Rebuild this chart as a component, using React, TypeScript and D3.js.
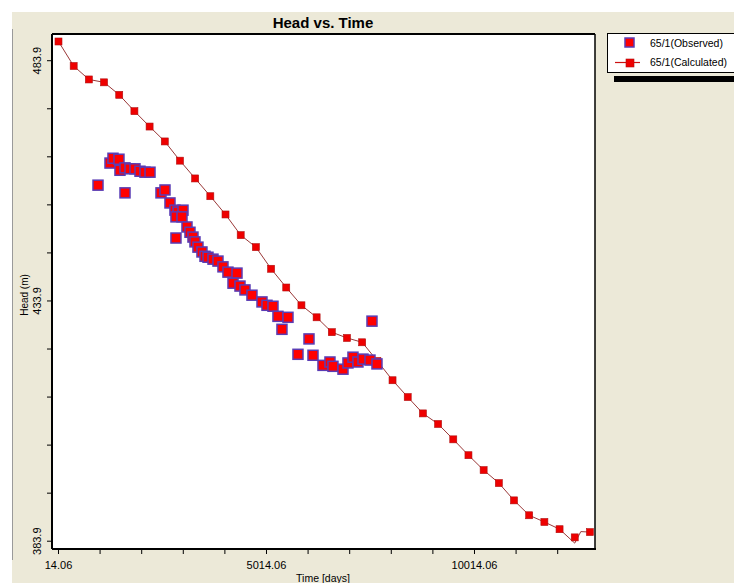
import React from "react";
import * as d3 from "d3";

// calculated head, one marker per year
const calcTime = [
  14.06, 379.06, 744.06, 1109.06, 1474.06, 1839.06, 2204.06, 2569.06, 2934.06,
  3299.06, 3664.06, 4029.06, 4394.06, 4759.06, 5124.06, 5489.06, 5854.06,
  6219.06, 6584.06, 6949.06, 7314.06, 7679.06, 8044.06, 8409.06, 8774.06,
  9139.06, 9504.06, 9869.06, 10234.06, 10599.06, 10964.06, 11329.06, 11694.06,
  12059.06, 12424.06, 12789.06,
];
const calcHead = [
  487.9, 482.8, 480.0, 479.4, 476.8, 473.4, 470.2, 467.1, 463.1, 459.4, 455.7,
  451.9, 447.6, 445.1, 440.6, 436.7, 433.0, 430.5, 427.4, 426.2, 425.3, 421.4,
  417.4, 413.9, 410.5, 408.3, 405.1, 401.8, 398.7, 396.0, 392.4, 389.3, 387.9,
  386.4, 384.7, 385.8,
];
// the calculated curve dips a little below the last markers
const lineTailTime = [12424.06, 12570, 12789.06];
const lineTailHead = [383.5, 385.9, 385.8];

const obsTime = [
  964, 1252, 1324, 1468, 1492, 1613, 1733, 1853, 1973, 2093, 2214, 1613, 2478,
  2574, 2694, 2814, 2887, 3007, 2838, 2983, 2838, 3103, 3175, 3247, 3295, 3367,
  3463, 3536, 3608, 3728, 3848, 3968, 4088, 4305, 4209, 4377, 4497, 4665, 4906,
  5026, 5170, 5290, 5531, 5386, 6036, 5771, 6132, 6372, 6540, 6612, 6853, 6973,
  7093, 7213, 7334, 7502, 7670, 7550,
];
const obsHead = [
  458.0, 462.6, 463.6, 463.4, 461.1, 461.6, 461.4, 461.4, 460.9, 460.7, 460.7,
  456.4, 456.4, 457.0, 454.3, 452.8, 452.4, 452.8, 451.4, 451.4, 447.0, 449.3,
  448.2, 447.2, 446.2, 445.1, 444.1, 443.2, 443.0, 442.6, 442.2, 441.0, 439.9,
  439.7, 437.6, 437.0, 436.2, 435.1, 433.7, 433.0, 432.8, 430.7, 430.5, 428.0,
  426.0, 422.8, 422.6, 420.5, 421.2, 420.3, 419.7, 421.0, 422.2, 421.2, 421.8,
  421.6, 420.8, 429.7,
];

const xTicks = [
  14.06, 1014.06, 2014.06, 3014.06, 4014.06, 5014.06, 6014.06, 7014.06,
  8014.06, 9014.06, 10014.06, 11014.06, 12014.06,
];
const xLabels = [14.06, 5014.06, 10014.06];
const yTicks = [383.9, 393.9, 403.9, 413.9, 423.9, 433.9, 443.9, 453.9, 463.9, 473.9, 483.9];
const yLabels = [383.9, 433.9, 483.9];

const W = 734;
const H = 583;
const plot = { left: 52, top: 34, right: 595, bottom: 549 };
const font = "'Liberation Sans', Arial, sans-serif";

export default function App() {
  const x = d3.scaleLinear().domain([-142, 12911]).range([plot.left, plot.right]);
  const y = d3.scaleLinear().domain([382.28, 489.46]).range([plot.bottom, plot.top]);

  const calcPts: [number, number][] = calcTime.map((t, i) => [t, calcHead[i]]);
  const linePts: [number, number][] = calcPts
    .slice(0, calcPts.length - 2)
    .concat(lineTailTime.map((t, i) => [t, lineTailHead[i]] as [number, number]));
  const line = d3
    .line<[number, number]>()
    .x((d) => x(d[0]))
    .y((d) => y(d[1]));

  const obs = 10;
  const cs = 7;

  return (
    <div style={{ position: "absolute", left: 0, top: 0 }}>
      <svg width={W} height={H} style={{ display: "block", fontFamily: font }}>
        <rect x={0} y={0} width={W} height={H} fill="#ffffff" />
        <rect x={12} y={12} width={W - 12} height={H - 12} fill="#ece9d8" />
        <line x1={12.5} y1={29} x2={12.5} y2={560} stroke="#9a9a9a" />

        <text x={323} y={28} textAnchor="middle" fontSize={15} fontWeight="bold">
          Head vs. Time
        </text>

        <rect
          x={plot.left}
          y={plot.top}
          width={plot.right - plot.left}
          height={plot.bottom - plot.top}
          fill="#ffffff"
        />

        <defs>
          <clipPath id="plotClip">
            <rect x={plot.left} y={plot.top} width={plot.right - plot.left} height={plot.bottom - plot.top} />
          </clipPath>
        </defs>

        <g clipPath="url(#plotClip)">
          <path d={line(linePts) || ""} fill="none" stroke="#9a3838" strokeWidth={1} />
          {calcPts.map((d, i) => (
            <rect
              key={"c" + i}
              x={x(d[0]) - cs / 2}
              y={y(d[1]) - cs / 2}
              width={cs}
              height={cs}
              fill="#ee0000"
              stroke="#b01010"
              strokeWidth={0.6}
            />
          ))}
          {obsTime.map((t, i) => (
            <rect
              key={"o" + i}
              x={x(t) - obs / 2}
              y={y(obsHead[i]) - obs / 2}
              width={obs}
              height={obs}
              fill="#ff0000"
              stroke="#5a3cb4"
              strokeWidth={1.5}
            />
          ))}
        </g>

        {/* frame */}
        <line x1={plot.left} y1={plot.top} x2={plot.right} y2={plot.top} stroke="#000" strokeWidth={2} />
        <line x1={plot.left} y1={plot.top} x2={plot.left} y2={plot.bottom} stroke="#000" strokeWidth={2} />
        <line x1={plot.left} y1={plot.bottom} x2={plot.right + 1} y2={plot.bottom} stroke="#000" strokeWidth={2} />
        <line x1={plot.right} y1={plot.top} x2={plot.right} y2={plot.bottom} stroke="#000" strokeWidth={1.5} />

        {/* x axis */}
        {xTicks.map((t) => (
          <line key={"xt" + t} x1={x(t)} x2={x(t)} y1={plot.bottom} y2={plot.bottom + 5} stroke="#000" />
        ))}
        {xLabels.map((t) => (
          <text key={"xl" + t} x={x(t)} y={569} textAnchor="middle" fontSize={11}>
            {t.toFixed(2)}
          </text>
        ))}
        <text x={323} y={582} textAnchor="middle" fontSize={10.5}>
          Time [days]
        </text>

        {/* y axis */}
        {yTicks.map((v) => (
          <line key={"yt" + v} x1={plot.left - 5} x2={plot.left} y1={y(v)} y2={y(v)} stroke="#000" />
        ))}
        {yLabels.map((v) => (
          <text
            key={"yl" + v}
            transform={`translate(41,${y(v)}) rotate(-90)`}
            textAnchor="middle"
            fontSize={11}
          >
            {v.toFixed(1)}
          </text>
        ))}
        <text transform="translate(28,295) rotate(-90)" textAnchor="middle" fontSize={10}>
          Head (m)
        </text>

        {/* legend */}
        <rect x={614} y={76} width={W - 614} height={6} fill="#000" />
        <rect x={607.5} y={33.5} width={W} height={39} fill="#ffffff" stroke="#000" />
        <rect x={625} y={38} width={9} height={9} fill="#ff0000" stroke="#5a3cb4" strokeWidth={1.5} />
        <text x={650} y={47} fontSize={10.5}>65/1(Observed)</text>
        <line x1={615} x2={640} y1={62.5} y2={62.5} stroke="#cc1010" strokeWidth={1.2} />
        <rect x={626} y={59} width={8} height={8} fill="#ee0000" stroke="#b01010" strokeWidth={0.6} />
        <text x={650} y={66} fontSize={10.5}>65/1(Calculated)</text>
      </svg>
    </div>
  );
}
